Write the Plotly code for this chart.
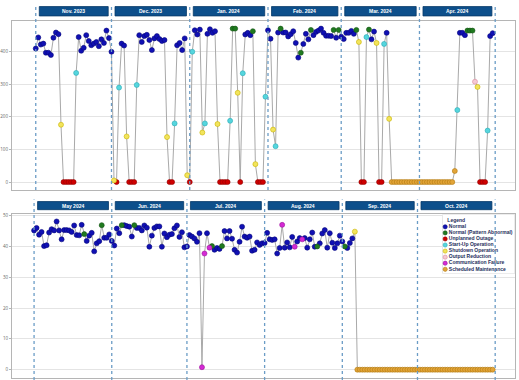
import pandas as pd
import plotly.graph_objects as go

# ---------------- data ----------------
top_start = "2023-11-01"
top_values = [
    # Nov 2023
    410, 444, 422, 425, 397, 397, 390, 443, 459, 454, 176, 0, 0, 0, 0, 0, 335, 445, 403, 412,
    451, 433, 420, 425, 430, 417, 438, 427, 465, 442,
    # Dec 2023
    400, 5, 0, 290, 425, 419, 140, 0, 0, 0, 298, 451, 430, 448, 452, 436, 405, 441, 448, 439,
    433, 436, 138, 0, 0, 180, 420, 427, 405, 441, 21,
    # Jan 2024
    0, 400, 466, 453, 468, 152, 180, 455, 469, 458, 463, 178, 0, 0, 0, 0, 188, 471, 471, 274,
    0, 334, 453, 458, 451, 463, 55, 0, 0, 0, 262,
    # Feb 2024
    466, 440, 161, 110, 459, 471, 459, 459, 447, 454, 463, 427, 382, 397, 424, 455, 438, 467, 451, 461,
    465, 471, 458, 449, 449, 448, 467, 443, 467,
    # Mar 2024
    446, 439, 458, 458, 464, 455, 467, 430, 0, 0, 445, 468, 438, 462, 427, 0, 0, 424, 458, 194,
    0, 0, 0, 0, 0, 0, 0, 0, 0, 0, 0,
    # Apr 2024
    0, 0, 0, 0, 0, 0, 0, 0, 0, 0, 0, 0, 0, 0, 34, 221, 458, 458, 451, 465,
    465, 465, 308, 292, 0, 0, 0, 158, 448, 457,
]
top_status = (
    "NNNNNNNNNNDUUUUUSNNNNNNNNNNNNN"        # Nov
    "NDUSNNDUUUSNNNNNNNNNNNDUUSNNNND"       # Dec
    "USNNNDSNNNNDUUUUSPPDUSNNNPDUUUS"       # Jan
    "NNDSNPNNNNNNNPNNNPNNNNNNNNPNP"         # Feb
    "NNNNNNPDUUSPNNDUUSNDMMMMMMMMMMM"       # Mar
    "MMMMMMMMMMMMMMMSNNNPPPRDUUUSNN"        # Apr
)

bottom_start = "2024-05-01"
bottom_values = [
    # May 2024
    45.2, 46.0, 43.8, 44.7, 40.1, 40.4, 44.5, 45.6, 45.2, 48.1, 45.2, 42.3, 45.3, 45.3, 45.2, 44.7,
    46.8, 43.7, 43.6, 47.0, 44.0, 41.8, 43.5, 44.4, 38.4, 41.0, 41.7, 46.9, 42.8, 42.8, 43.9,
    # Jun 2024
    41.8, 40.3, 45.8, 44.3, 46.9, 46.9, 46.6, 46.4, 43.2, 46.9, 46.0, 46.0, 45.2, 46.8, 46.1, 39.9,
    43.5, 46.0, 46.5, 46.5, 39.9, 44.2, 43.0, 43.8, 44.0, 45.9, 46.8, 43.1, 44.6, 39.7,
    # Jul 2024
    40.0, 43.7, 43.2, 42.6, 41.5, 44.3, 0.8, 37.7, 44.3, 39.6, 40.1, 38.9, 39.5, 39.2, 40.1, 45.0,
    42.6, 45.0, 42.5, 38.9, 38.0, 41.5, 46.4, 43.2, 42.8, 43.2, 38.6, 38.9, 41.3, 40.5, 41.0,
    # Aug 2024
    41.1, 44.4, 42.3, 42.1, 42.3, 37.7, 39.5, 47.0, 39.6, 41.3, 39.7, 43.1, 39.9, 41.6, 42.7, 42.3,
    42.7, 39.6, 42.3, 44.5, 39.9, 40.0, 41.0, 44.2, 45.3, 39.6, 44.3, 41.2, 39.5, 41.0, 43.5,
    # Sep 2024
    41.6, 40.0, 39.5, 41.1, 42.6, 44.8, 0, 0, 0, 0, 0, 0, 0, 0, 0, 0,
    0, 0, 0, 0, 0, 0, 0, 0, 0, 0, 0, 0, 0, 0,
    # Oct 2024
    0, 0, 0, 0, 0, 0, 0, 0, 0, 0, 0, 0, 0, 0, 0, 0,
    0, 0, 0, 0, 0, 0, 0, 0, 0, 0, 0, 0, 0, 0, 0,
]
bottom_status = (
    "NNNNNNNNNNNNNNNNNNNNPNNNNNNPNNN"       # May
    "NNNNPNNNNPNNNNNNNNNNNNNNNNNNNN"        # Jun
    "NNNNNNCCNCPNNNPNNNNNNNNNNNNNNNN"       # Jul
    "NNNNNNNCNNNNCNNCNNNNNPNNNNNNNNN"       # Aug
    "NPNNNDMMMMMMMMMMMMMMMMMMMMMMMM"        # Sep
    "MMMMMMMMMMMMMMMMMMMMMMMMMMMMMMM"       # Oct
)

top_months = ["Nov. 2023", "Dec. 2023", "Jan. 2024", "Feb. 2024", "Mar. 2024", "Apr. 2024"]
bottom_months = ["May 2024", "Jun. 2024", "Jul. 2024", "Aug. 2024", "Sep. 2024", "Oct. 2024"]

status_names = {
    "N": "Normal",
    "P": "Normal (Pattern Abnormal)",
    "U": "Unplanned Outage",
    "S": "Start-Up Operation",
    "D": "Shutdown Operation",
    "R": "Output Reduction",
    "C": "Communication Failure",
    "M": "Scheduled Maintenance",
}
status_order = ["N", "P", "U", "S", "D", "R", "C", "M"]

# ---------------- styles ----------------
fill = {"N": "#1010b4", "P": "#1f7a1f", "U": "#d00000", "S": "#55d6de",
        "D": "#f2e45c", "R": "#f6c9d3", "C": "#d42ad4", "M": "#e2a437"}
edge = {"N": "#06067a", "P": "#145214", "U": "#900000", "S": "#2aaab4",
        "D": "#c9b400", "R": "#d88a9c", "C": "#9a109a", "M": "#b07810"}

W, H = 519, 380
XL, XR = 8, 515
def px(x): return x / W
def py(y): return 1 - y / H

top_dates = pd.date_range(top_start, periods=len(top_values), freq="D")
bot_dates = pd.date_range(bottom_start, periods=len(bottom_values), freq="D")

fig = go.Figure()

def add_panel(dates, values, status, xa, ya):
    fig.add_trace(go.Scatter(x=dates, y=values, mode="lines",
                             line=dict(color="#a9a9a9", width=1),
                             xaxis=xa, yaxis=ya, showlegend=False, hoverinfo="skip"))
    for code in status_order:
        xs = [d for d, s in zip(dates, status) if s == code]
        ys = [v for v, s in zip(values, status) if s == code]
        if not xs:
            continue
        fig.add_trace(go.Scatter(x=xs, y=ys, mode="markers",
                                 marker=dict(size=5, color=fill[code],
                                             line=dict(color=edge[code], width=0.6)),
                                 name=status_names[code], xaxis=xa, yaxis=ya,
                                 showlegend=False))

add_panel(top_dates, top_values, top_status, "x", "y")
add_panel(bot_dates, bottom_values, bottom_status, "x2", "y2")

# legend drawn in its own small axes
LX0, LX1, LY0, LY1 = 441.7, 515, 213.5, 273
fig.add_trace(go.Scatter(x=[LX0, LX1, LX1, LX0, LX0], y=[LY0, LY0, LY1, LY1, LY0],
                         mode="lines", fill="toself", fillcolor="white",
                         line=dict(color="#d6d6d6", width=1),
                         xaxis="x3", yaxis="y3", showlegend=False, hoverinfo="skip"))
leg_y = [226, 232.1, 238.2, 244.3, 250.4, 256.5, 262.6, 268.7]
fig.add_trace(go.Scatter(x=[446.8], y=[219.8], mode="text", text=["<b>Legend</b>"],
                         textposition="middle right", cliponaxis=False,
                         textfont=dict(size=5.0, color="#1f2f5c", family="Liberation Sans"),
                         xaxis="x3", yaxis="y3", showlegend=False, hoverinfo="skip"))
fig.add_trace(go.Scatter(x=[444.6] * 8, y=leg_y, mode="markers+text",
                         text=["<b>" + status_names[c] + "</b>" for c in status_order],
                         textposition="middle right", cliponaxis=False,
                         textfont=dict(size=5.0, color="#1f2f5c", family="Liberation Sans"),
                         marker=dict(size=4.2, color=[fill[c] for c in status_order],
                                     line=dict(color=[edge[c] for c in status_order], width=0.6)),
                         xaxis="x3", yaxis="y3", showlegend=False, hoverinfo="skip"))

# ---------------- axes ----------------
t0 = pd.Timestamp(top_start)
b0 = pd.Timestamp(bottom_start)
tpd = 2.544   # px per day, top
bpd = 2.5255  # px per day, bottom
top_range = [t0 - pd.Timedelta(days=(32 - XL) / tpd), t0 + pd.Timedelta(days=(XR - 32) / tpd)]
bot_range = [b0 - pd.Timedelta(days=(30.3 - XL) / bpd), b0 + pd.Timedelta(days=(XR - 30.3) / bpd)]

axis_common = dict(showline=True, mirror=True, linecolor="#b5b5b5", linewidth=1)
fig.update_layout(
    width=W, height=H, margin=dict(l=0, r=0, t=0, b=0),
    paper_bgcolor="white", plot_bgcolor="white", showlegend=False,
    xaxis=dict(domain=[px(XL), px(XR)], anchor="y", type="date", range=top_range,
               showgrid=False, showticklabels=False, ticks="", zeroline=False, **axis_common),
    yaxis=dict(domain=[py(189), py(19)], anchor="x", range=[-24.4, 494.7],
               tickvals=[0, 100, 200, 300, 400], gridcolor="#e4e4e4", gridwidth=1.3,
               zeroline=False, ticks="outside", ticklen=2, tickcolor="#b5b5b5",
               tickfont=dict(size=4.5, color="#666666"), **axis_common),
    xaxis2=dict(domain=[px(XL), px(XR)], anchor="y2", type="date", range=bot_range,
                showgrid=False, showticklabels=False, ticks="", zeroline=False, **axis_common),
    yaxis2=dict(domain=[py(378), py(213.5)], anchor="x2", range=[-2.7, 50.4],
                tickvals=[0, 10, 20, 30, 40, 50], gridcolor="#e4e4e4", gridwidth=1.3,
                zeroline=False, ticks="outside", ticklen=2, tickcolor="#b5b5b5",
                tickfont=dict(size=4.5, color="#666666"), **axis_common),
    xaxis3=dict(domain=[px(LX0), px(LX1)], anchor="y3", range=[LX0, LX1], visible=False),
    yaxis3=dict(domain=[py(LY1), py(LY0)], anchor="x3", range=[LY1, LY0], visible=False),
)

# ---------------- month boundaries and header boxes ----------------
shapes = []
annotations = []

def month_decor(start, labels, xref, line_y0, line_y1, box_y0, box_y1):
    starts = pd.date_range(start, periods=len(labels) + 1, freq="MS")
    for s in starts:
        shapes.append(dict(type="line", xref=xref, yref="paper", x0=s, x1=s,
                           y0=py(line_y0), y1=py(line_y1),
                           line=dict(color="#6b9cc6", width=1.3, dash="dot"), layer="above"))
    for i, lab in enumerate(labels):
        a, b = starts[i], starts[i + 1]
        shapes.append(dict(type="rect", xref=xref, yref="paper",
                           x0=a + pd.Timedelta(days=1.4), x1=b - pd.Timedelta(days=1.3),
                           y0=py(box_y1), y1=py(box_y0),
                           fillcolor="#0d4f8b", line=dict(color="#083a68", width=0.8), layer="above"))
        annotations.append(dict(xref=xref, yref="paper", x=a + (b - a) / 2,
                                y=py((box_y0 + box_y1) / 2), text="<b>" + lab + "</b>",
                                showarrow=False, font=dict(size=5, color="white",
                                                           family="Liberation Sans"),
                                xanchor="center", yanchor="middle"))

month_decor(top_start, top_months, "x", 189, 3, 4.6, 14)
month_decor(bottom_start, bottom_months, "x2", 380, 198.5, 200.6, 208.8)

fig.update_layout(shapes=shapes, annotations=annotations)
fig.write_html("out.html", config={"displayModeBar": False},
               post_script="document.body.style.margin='0';")
